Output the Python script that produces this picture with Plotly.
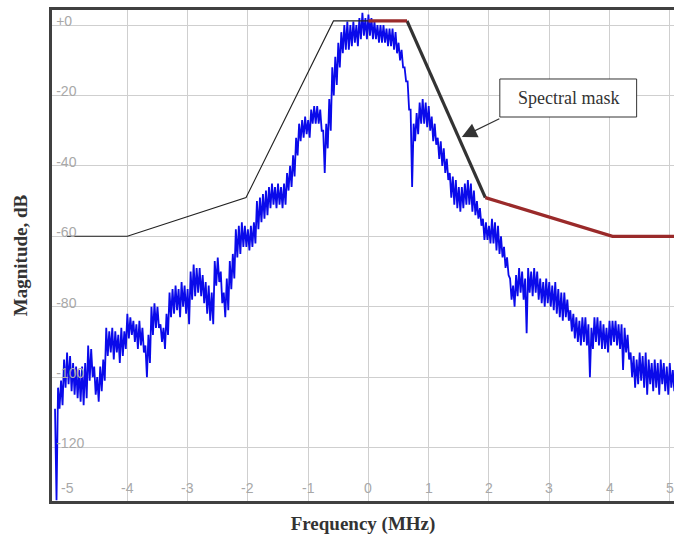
import plotly.graph_objects as go

# Measured spectrum: frequency (MHz) with upper / lower edge of the noisy trace (dB)
freq = [-5.20, -5.15, -5.10, -5.05, -5.00, -4.95, -4.90, -4.85, -4.80, -4.75,
        -4.70, -4.65, -4.60, -4.55, -4.50, -4.45, -4.40, -4.35, -4.30, -4.25,
        -4.20, -4.15, -4.10, -4.05, -4.00, -3.95, -3.90, -3.85, -3.80, -3.75,
        -3.70, -3.65, -3.60, -3.55, -3.50, -3.45, -3.40, -3.35, -3.30, -3.25,
        -3.20, -3.15, -3.10, -3.05, -3.00, -2.95, -2.90, -2.85, -2.80, -2.75,
        -2.70, -2.65, -2.60, -2.55, -2.50, -2.45, -2.40, -2.35, -2.30, -2.25,
        -2.20, -2.15, -2.10, -2.05, -2.00, -1.95, -1.90, -1.85, -1.80, -1.75,
        -1.70, -1.65, -1.60, -1.55, -1.50, -1.45, -1.40, -1.35, -1.30, -1.25,
        -1.20, -1.15, -1.10, -1.05, -1.00, -0.95, -0.90, -0.85, -0.80, -0.75,
        -0.70, -0.65, -0.60, -0.55, -0.50, -0.45, -0.40, -0.35, -0.30, -0.25,
        -0.20, -0.15, -0.10, -0.05, 0.00, 0.05, 0.10, 0.15, 0.20, 0.25,
        0.30, 0.35, 0.40, 0.45, 0.50, 0.55, 0.60, 0.65, 0.70, 0.75,
        0.80, 0.85, 0.90, 0.95, 1.00, 1.05, 1.10, 1.15, 1.20, 1.25,
        1.30, 1.35, 1.40, 1.45, 1.50, 1.55, 1.60, 1.65, 1.70, 1.75,
        1.80, 1.85, 1.90, 1.95, 2.00, 2.05, 2.10, 2.15, 2.20, 2.25,
        2.30, 2.35, 2.40, 2.45, 2.50, 2.55, 2.60, 2.65, 2.70, 2.75,
        2.80, 2.85, 2.90, 2.95, 3.00, 3.05, 3.10, 3.15, 3.20, 3.25,
        3.30, 3.35, 3.40, 3.45, 3.50, 3.55, 3.60, 3.65, 3.70, 3.75,
        3.80, 3.85, 3.90, 3.95, 4.00, 4.05, 4.10, 4.15, 4.20, 4.25,
        4.30, 4.35, 4.40, 4.45, 4.50, 4.55, 4.60, 4.65, 4.70, 4.75,
        4.80, 4.85, 4.90, 4.95, 5.00, 5.05]

mag_hi = [-109, -103, -101, -95, -93, -94, -96, -97, -98, -97,
          -96, -91, -92, -97, -100, -97, -95, -86, -87, -86,
          -87, -88, -86, -87, -82, -83, -84, -85, -84, -86,
          -91, -88, -80, -79, -80, -85, -86, -82, -76, -75,
          -74, -75, -73, -74, -75, -70, -68, -69, -69, -71,
          -73, -74, -76, -67, -66, -70, -76, -72, -67, -65,
          -58, -57, -56, -57, -58, -57, -56, -50, -49, -48,
          -47, -46, -45, -46, -45, -46, -45, -42, -40, -37,
          -32, -28, -27, -26, -27, -24, -23, -23, -24, -30,
          -28, -21, -12, -9, -5, -2, 0, 1, 0, 1,
          0, 2, 3.5, 2, 3, 2, 1, 0, 0, 0,
          -1, -1, -1, -2, -5, -7, -12, -16, -24, -28,
          -25, -22, -21, -22, -23, -26, -28, -32, -33, -35,
          -38, -42, -43, -44, -46, -46, -45, -44, -45, -47,
          -50, -52, -55, -56, -57, -55, -56, -57, -60, -63,
          -66, -72, -74, -71, -69, -70, -72, -69, -70, -69,
          -70, -72, -73, -72, -73, -74, -73, -75, -76, -76,
          -78, -81, -82, -83, -84, -83, -83, -85, -86, -83,
          -83, -84, -85, -86, -84, -84, -84, -85, -85, -86,
          -88, -93, -94, -95, -93, -94, -93, -95, -96, -95,
          -96, -95, -96, -97, -96, -98]

mag_lo = [-135, -109, -108, -103, -102, -104, -105, -106, -107, -108,
          -106, -101, -100, -105, -107, -104, -101, -94, -93, -95,
          -93, -96, -94, -92, -89, -88, -90, -92, -91, -93,
          -100, -96, -88, -86, -86, -90, -92, -88, -83, -82,
          -81, -83, -80, -82, -85, -78, -77, -76, -77, -79,
          -82, -84, -85, -74, -73, -79, -83, -81, -75, -72,
          -66, -65, -63, -63, -64, -63, -62, -58, -56, -55,
          -54, -52, -51, -52, -51, -52, -51, -47, -46, -43,
          -37, -33, -32, -31, -32, -28, -28, -28, -30, -42,
          -35, -30, -20, -17, -12, -8, -7, -7, -6, -5,
          -6, -4, -3, -4, -3, -4, -4, -5, -5, -5,
          -6, -6, -7, -8, -10, -12, -16, -24, -46, -33,
          -31, -28, -28, -29, -30, -33, -34, -38, -40, -42,
          -44, -49, -51, -52, -53, -52, -51, -51, -53, -54,
          -55, -57, -61, -61, -62, -62, -64, -65, -66, -69,
          -71, -78, -80, -77, -76, -78, -87.5, -76, -77, -76,
          -78, -79, -80, -79, -80, -81, -82, -83, -84, -83,
          -84, -87, -89, -90, -91, -90, -91, -100, -92, -90,
          -91, -92, -92, -93, -91, -90, -91, -92, -98, -93,
          -95, -100, -103, -102, -101, -103, -105, -102, -104, -103,
          -105, -102, -104, -105, -103, -104]

# Spectral mask segments (MHz, dB)
mask_left_f = [-5.0, -4.0, -2.03, -0.58, 0.0]
mask_left_db = [-60, -60, -49, 1.2, 1.2]
mask_top_f = [0.0, 0.64]
mask_top_db = [1.2, 1.2]
mask_slope_f = [0.64, 1.94]
mask_slope_db = [1.2, -49]
mask_floor_f = [1.94, 4.05, 5.2]
mask_floor_db = [-49, -60, -60]

x_ticks = [-5, -4, -3, -2, -1, 0, 1, 2, 3, 4, 5]
x_tick_text = ["-5", "-4", "-3", "-2", "-1", "0", "1", "2", "3", "4", "5"]
y_ticks = [0, -20, -40, -60, -80, -100, -120]
y_tick_text = ["+0", "-20", "-40", "-60", "-80", "-100", "-120"]

# Trace alternates between the upper and lower edge to render the noise band
trace_x, trace_y = [], []
for f, h, l in zip(freq, mag_hi, mag_lo):
    trace_x += [f, f + 0.025]
    trace_y += [h, l]

fig = go.Figure()
fig.add_trace(go.Scatter(x=trace_x, y=trace_y, mode="lines",
                         line=dict(color="#0a0aea", width=1.8), hoverinfo="skip"))
fig.add_trace(go.Scatter(x=mask_left_f, y=mask_left_db, mode="lines",
                         line=dict(color="#222222", width=1.1)))
fig.add_trace(go.Scatter(x=mask_slope_f, y=mask_slope_db, mode="lines",
                         line=dict(color="#333333", width=3.2)))
fig.add_trace(go.Scatter(x=mask_top_f, y=mask_top_db, mode="lines",
                         line=dict(color="#9a2a2a", width=3.2)))
fig.add_trace(go.Scatter(x=mask_floor_f, y=mask_floor_db, mode="lines",
                         line=dict(color="#9a2a2a", width=3.2)))

tick_font = dict(family="Liberation Sans, Arial, sans-serif", size=14, color="#a8a8a8")
title_font = dict(family="Liberation Serif, Times New Roman, serif", size=19, color="#333333")

fig.update_xaxes(range=[-5.25, 5.07], tickvals=x_ticks, showgrid=True,
                 gridcolor="#cfcfcf", gridwidth=1, zeroline=False,
                 showline=True, linecolor="#404040", linewidth=3, mirror=True,
                 ticks="", showticklabels=False,
                 title=dict(text="<b>Frequency (MHz)</b>", font=title_font, standoff=14))
fig.update_yaxes(range=[-135.2, 4.3], tickvals=y_ticks, ticktext=y_tick_text,
                 showgrid=True, gridcolor="#cfcfcf", gridwidth=1, zeroline=False,
                 showline=True, linecolor="#404040", linewidth=3,
                 ticks="", ticklabelposition="inside", ticklabelshift=-4,
                 ticklabelstandoff=4, tickfont=tick_font,
                 title=dict(text="<b>Magnitude, dB</b>", font=title_font, standoff=24))

# Frequency tick labels sit inside the plot, just above the bottom frame
for xv, xt in zip(x_ticks, x_tick_text):
    fig.add_annotation(x=xv, y=0, xref="x", yref="paper", text=xt, showarrow=False,
                       yanchor="middle", yshift=13, font=tick_font)

# Label box with arrow pointing at the mask
fig.add_shape(type="rect", xref="x", yref="y", x0=2.18, x1=4.45, y0=-26.1, y1=-15.3,
              line=dict(color="#333333", width=1), fillcolor="white", layer="above")
fig.add_annotation(x=3.315, y=-20.7, xref="x", yref="y", text="Spectral mask",
                   showarrow=False,
                   font=dict(family="Liberation Serif, Times New Roman, serif",
                             size=18, color="#333333"))
fig.add_annotation(x=1.55, y=-31.8, xref="x", yref="y", text="", showarrow=True,
                   ax=39, ay=-19, arrowhead=2, arrowsize=2.5, arrowwidth=1.2,
                   arrowcolor="#333333")

fig.update_layout(width=674, height=535, showlegend=False,
                  margin=dict(l=52, r=0, t=10, b=34),
                  plot_bgcolor="white", paper_bgcolor="white")

fig.write_html("out.html")
